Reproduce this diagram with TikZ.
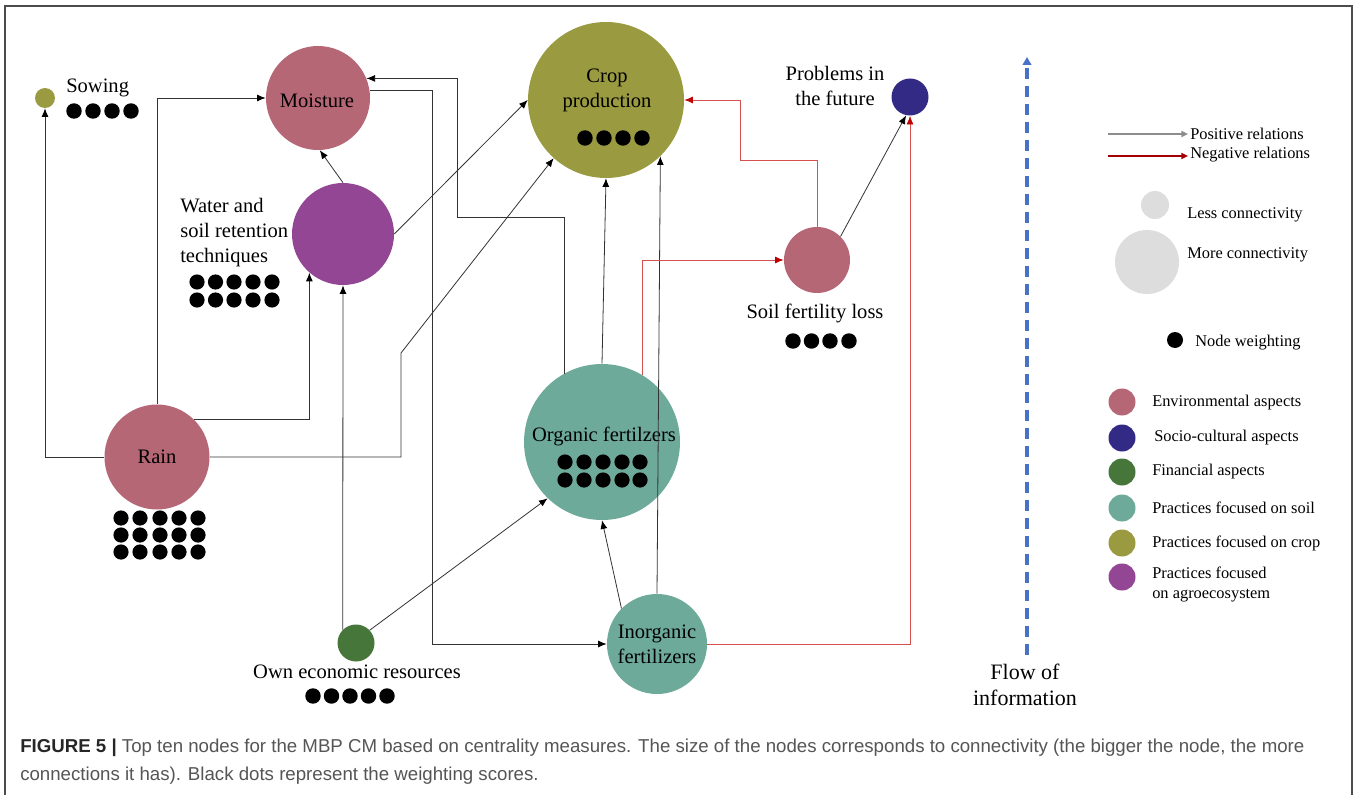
\documentclass[tikz,border=0pt]{standalone}
\usepackage{fontspec}
\setmainfont{Liberation Serif}
\newfontfamily\capfont{Liberation Sans}
\usetikzlibrary{arrows.meta}

\definecolor{envc}{RGB}{181,103,117}
\definecolor{socc}{RGB}{51,42,133}
\definecolor{finc}{RGB}{71,118,59}
\definecolor{soilc}{RGB}{109,170,153}
\definecolor{cropc}{RGB}{154,154,64}
\definecolor{agroc}{RGB}{147,70,148}
\definecolor{lgray}{RGB}{221,221,221}
\definecolor{negc}{RGB}{192,0,0}
\definecolor{negl}{RGB}{214,80,80}
\definecolor{flowc}{RGB}{72,114,200}
\definecolor{capc}{RGB}{85,85,85}

\begin{document}
\begin{tikzpicture}[x=0.75pt,y=-0.75pt,
  bub/.style={circle,inner sep=0pt,minimum size=#1},
  lbl/.style={font=\fontsize{15.4}{18.75}\selectfont,inner sep=0pt,align=center},
  lgd/.style={font=\fontsize{12.3}{14.3}\selectfont,inner sep=0pt,anchor=west,align=left},
  posc/.style={draw=black!80,line width=0.6pt,-{Latex[length=6.5pt,width=5.2pt,color=black]}},
  negr/.style={draw=negl,line width=0.6pt,-{Latex[length=6.5pt,width=5.2pt,color=negc]}},
  wdot/.style={fill=black},
  captxt/.style={anchor=west,inner sep=0pt,font=\capfont\fontsize{14}{16}\selectfont,text=capc},
]
\useasboundingbox (0,0) rectangle (1357,795);

% outer frame
\draw[black!70,line width=0.8pt] (5,795) -- (5,6) -- (1352,6) -- (1352,795);

% ---------- concept nodes ----------
\node[bub=15pt,fill=cropc] (sow) at (45,98) {};
\node[lbl,anchor=west] (sowt) at (66,88) {Sowing};

\node[bub=78pt,fill=envc] (moist) at (318,98) {};
\node[lbl] (moistt) at (317,101) {Moisture};

\node[bub=76.5pt,fill=agroc] (wat) at (343,234) {};
\node[lbl,anchor=west,align=left] (watt) at (180,233) {Water and\\soil retention\\techniques};

\node[bub=117pt,fill=cropc] (crop) at (606,100) {};
\node[lbl] (cropt) at (607,90.5) {Crop\\production};

\node[bub=27.75pt,fill=socc] (prob) at (910,97) {};
\node[lbl] (probt) at (835,86) {Problems in\\the future};

\node[bub=49.5pt,fill=envc] (soil) at (817,260) {};
\node[lbl] (soilt) at (815,313) {Soil fertility loss};

\node[bub=117pt,fill=soilc] (org) at (602,442) {};
\node[lbl] (orgt) at (604,436) {Organic fertilzers};

\node[bub=75pt,fill=soilc,lbl] (inorg) at (657,644) {Inorganic\\fertilizers};

\node[bub=27.75pt,fill=finc] (own) at (356,643) {};
\node[lbl] (ownt) at (357,672) {Own economic resources};

\node[bub=78.75pt,fill=envc,lbl] (rain) at (157,457) {Rain};

% ---------- weighting dots ----------
\foreach \x in {74,93,112,131} \fill[wdot] (\x,111) circle[radius=5.8pt];
\foreach \x in {197,215.5,234,253,272}
  \foreach \y in {282,300} \fill[wdot] (\x,\y) circle[radius=5.7pt];
\foreach \x in {585,604,623,642} \fill[wdot] (\x,138) circle[radius=5.8pt];
\foreach \x in {793,811.5,830,849} \fill[wdot] (\x,341) circle[radius=5.8pt];
\foreach \x in {565,584,603,622,640}
  \foreach \y in {462,480} \fill[wdot] (\x,\y) circle[radius=5.7pt];
\foreach \x in {313,331.5,350,368.5,387} \fill[wdot] (\x,696) circle[radius=5.8pt];
\foreach \x in {121,140,160,179,198}
  \foreach \y in {518,535,552} \fill[wdot] (\x,\y) circle[radius=5.7pt];

% ---------- bend points ----------
\coordinate (c1) at (401,353);
\coordinate (c2) at (457,217);
\coordinate (c3) at (432,644);
\coordinate (c4) at (740,160);

% ---------- positive relations ----------
\draw[posc] (rain.west) -| (sow.south);
\draw[posc] (rain.north) |- (moist.west);
\draw[posc] (rain.45) -| (wat.229);
\draw[posc] (rain.east) -| (c1) -- (crop.228);
\draw[posc] (wat.north) -- (moist.272);
\draw[posc] (wat.east) -- (crop.west);
\draw[posc] (org.north) -- (crop.south);
\draw[posc] (inorg.north) -- (crop.314);
\draw[posc] (inorg.135) -- (org.south);
\draw[posc] (own.43) -- (org.226);
\draw[posc] (own.135) -- (wat.south);
\draw[posc] (org.119) |- (c2) |- (moist.22);
\draw[posc] (moist.8) -| (c3) -- (inorg.west);
\draw[posc] (soil.45) -- (prob.258);

% ---------- negative relations ----------
\draw[negr] (org.59) |- (soil.west);
\draw[negr] (soil.north) |- (c4) |- (crop.east);
\draw[negr] (inorg.east) -| (prob.south);

% ---------- flow of information ----------
\coordinate (flowbot) at (1027,655);
\coordinate (flowtop) at (1027,57);
\draw[flowc,line width=2.3pt,dash pattern=on 8.5pt off 5pt,
      -{Triangle[length=6pt,width=6.5pt]}] (flowbot) -- (flowtop);
\node[font=\fontsize{16.5}{20}\selectfont,inner sep=0pt,align=center] (flowt) at (1025,685) {Flow of\\information};

% ---------- legend ----------
\coordinate (lp0) at (1108,134);
\coordinate (lp1) at (1188,134);
\coordinate (ln0) at (1108,156);
\coordinate (ln1) at (1188,156);
\draw[black!45,line width=1.5pt,-{Triangle[length=5pt,width=4.5pt]}] (lp0) -- (lp1);
\draw[negc!85!black,line width=1.5pt,-{Triangle[length=5pt,width=4.5pt]}] (ln0) -- (ln1);
\node[lgd] (lpt) at (1190,134) {Positive relations};
\node[lgd] (lnt) at (1190,155) {Negative relations};

\node[bub=21pt,fill=lgray] (lless) at (1155,205) {};
\node[lgd] (llesst) at (1187,215) {Less connectivity};
\node[bub=48pt,fill=lgray] (lmore) at (1147,262) {};
\node[lgd] (lmoret) at (1187,255) {More connectivity};

\node[bub=12pt,fill=black] (lw) at (1175,340) {};
\node[lgd] (lwt) at (1195,343) {Node weighting};

\node[bub=20.25pt,fill=envc] (l1) at (1122,402) {};
\node[lgd] (l1t) at (1152,403) {Environmental aspects};
\node[bub=20.25pt,fill=socc] (l2) at (1122,438) {};
\node[lgd] (l2t) at (1154,438) {Socio-cultural aspects};
\node[bub=20.25pt,fill=finc] (l3) at (1122,472) {};
\node[lgd] (l3t) at (1152,472) {Financial aspects};
\node[bub=20.25pt,fill=soilc] (l4) at (1122,508) {};
\node[lgd] (l4t) at (1152,508) {Practices focused on soil};
\node[bub=20.25pt,fill=cropc] (l5) at (1122,543) {};
\node[lgd] (l5t) at (1152,543) {Practices focused on crop};
\node[bub=20.25pt,fill=agroc] (l6) at (1122,577) {};
\node[lgd] (l6t) at (1152,584.5) {Practices focused\\on agroecosystem};

% ---------- caption ----------
\node[captxt] (cap1) at (20,748)
  {\textcolor{black!85}{\bfseries FIGURE 5 |} Top ten nodes for the MBP CM based on centrality measures. The size of the nodes corresponds to connectivity (the bigger the node, the more};
\node[captxt] (cap2) at (20,776)
  {connections it has). Black dots represent the weighting scores.};
\end{tikzpicture}
\end{document}
